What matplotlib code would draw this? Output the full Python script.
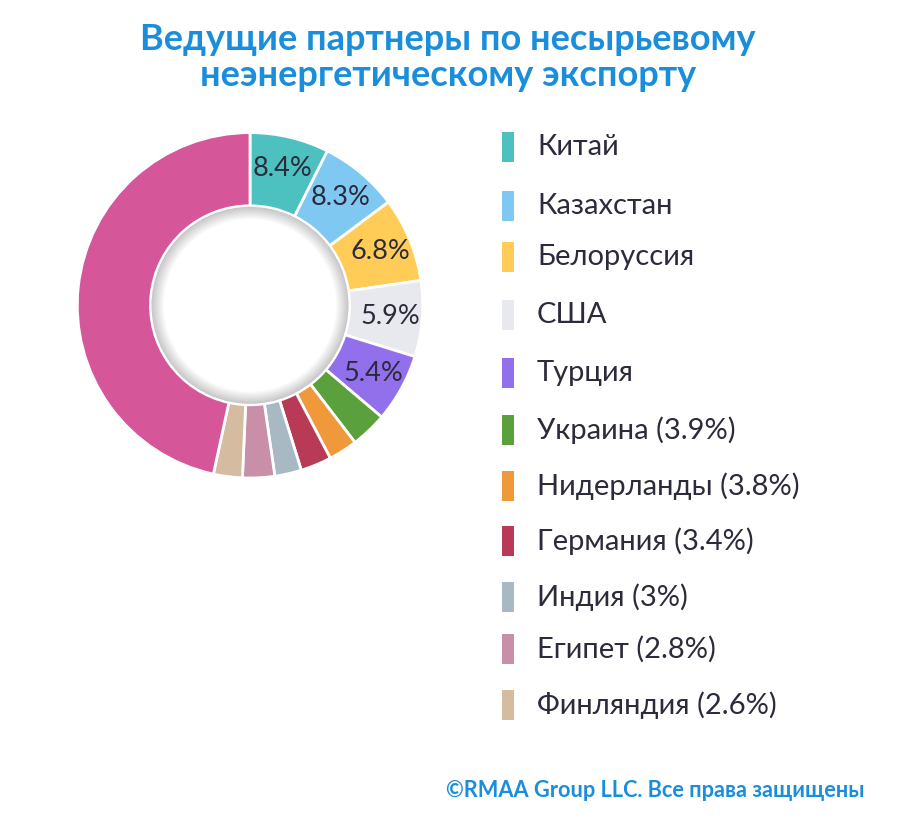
import numpy as np
import matplotlib.pyplot as plt
from matplotlib.patches import Rectangle, Wedge

plt.rcParams['font.family'] = ['Lato', 'DejaVu Sans']

title_lines = ['Ведущие партнеры по несырьевому', 'неэнергетическому экспорту']
footer = '©RMAA Group LLC. Все права защищены'

countries = ['Китай', 'Казахстан', 'Белоруссия', 'США', 'Турция', 'Украина',
             'Нидерланды', 'Германия', 'Индия', 'Египет', 'Финляндия']
label_pct = [8.4, 8.3, 6.8, 5.9, 5.4, 3.9, 3.8, 3.4, 3, 2.8, 2.6]
# slice sizes as drawn in the picture (last one = rest, no legend entry)
slice_sizes = [7.4, 7.4, 7.9, 7.1, 6.4, 3.4, 2.7, 2.9, 2.5, 3.0, 2.7, 46.6]
colors = ['#4dc0c0', '#7fc8f2', '#ffcd57', '#e8e9ee', '#9370eb', '#5aa03c',
          '#f0993a', '#b83a56', '#a9b9c3', '#c98fa8', '#d5bba0', '#d6569a']

W, H = 900, 831
fig = plt.figure(figsize=(9, 8.31), dpi=100)
ax = fig.add_axes([0, 0, 1, 1])

cx, cy = 250, H - 305.3
r_out, r_in = 172.7, 99.5

wedges, _ = ax.pie(slice_sizes, colors=colors, startangle=90, counterclock=False,
                   center=(cx, cy), radius=r_out,
                   wedgeprops=dict(width=r_out - r_in, edgecolor='white', linewidth=2))

# soft inner shadow in the hole
for i in range(14):
    ax.add_patch(Wedge((cx, cy), r_in - 1, 0, 360, width=0.8 + i * 0.9,
                       facecolor='#000000', alpha=0.014, edgecolor='none'))

dark = '#2b2b3b'
for w, v in zip(wedges[:5], label_pct[:5]):
    ang = np.deg2rad((w.theta1 + w.theta2) / 2)
    ax.text(cx + 141 * np.cos(ang), cy + 141 * np.sin(ang), f'{v:g}%',
            ha='center', va='center', fontsize=19.5, color=dark)

legend_y = [147, 206, 257, 315, 373, 430, 486, 541, 597, 649, 705]
for i, (name, v) in enumerate(zip(countries, label_pct)):
    y = H - legend_y[i]
    ax.add_patch(Rectangle((502, y - 15), 12, 30, facecolor=colors[i], edgecolor='none'))
    txt = name if i < 5 else f'{name} ({v:g}%)'
    ax.text(537, y, txt, ha='left', va='center', fontsize=21, color=dark)

for line, base in zip(title_lines, [50, 86]):
    ax.text(448, H - base, line, ha='center', va='baseline', fontsize=26,
            fontweight='bold', color='#1b8edb')
ax.text(865, H - 797, footer, ha='right', va='baseline', fontsize=15.7,
        fontweight='bold', color='#1b8edb')

ax.set_xlim(0, W)
ax.set_ylim(0, H)
ax.set_aspect('equal')
ax.axis('off')

fig.savefig('out.png', dpi=100, facecolor='white')
